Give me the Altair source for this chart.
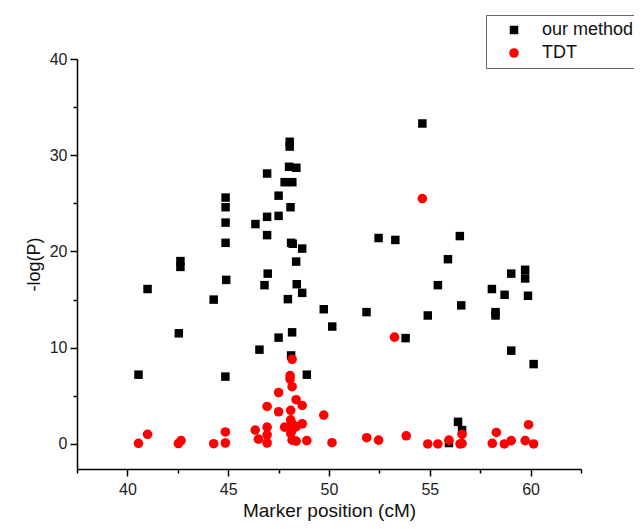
import altair as alt
import pandas as pd

# "our method" (black squares)
ours_x = [40.55, 41.0, 42.55, 42.63, 42.63, 44.28, 44.87, 44.87, 44.87, 44.87,
          44.9, 44.86, 46.35, 46.55, 46.8, 46.93, 46.93, 46.93, 46.96, 47.5,
          47.5, 47.5, 47.8, 47.96, 48.05, 48.05, 48.02, 48.38, 48.18, 48.09,
          48.12, 48.2, 48.17, 48.12, 48.67, 48.37, 48.4, 48.67, 48.9, 49.74,
          50.16, 51.86, 52.46, 53.29, 53.8, 54.63, 54.9, 55.4, 55.9, 56.4,
          56.6, 55.95, 56.49, 56.56, 58.08, 58.26, 58.26, 58.71, 59.04, 59.04,
          59.73, 59.73, 59.87, 60.15]
ours_y = [7.2, 16.1, 11.5, 19.0, 18.4, 15.0, 25.6, 24.6, 23.0, 20.9,
          17.05, 7.0, 22.85, 9.8, 16.5, 28.1, 23.6, 21.7, 17.7, 25.8,
          23.7, 11.05, 27.2, 15.05, 31.4, 30.9, 28.8, 28.7, 27.2, 24.6,
          20.9, 20.8, 11.6, 9.2, 20.3, 18.95, 16.6, 15.7, 7.2, 14.0,
          12.2, 13.7, 21.4, 21.2, 11.0, 33.3, 13.35, 16.5, 19.2, 2.3,
          1.45, 0.1, 21.6, 14.4, 16.1, 13.7, 13.35, 15.5, 17.7, 9.7,
          18.1, 17.2, 15.4, 8.3]

# "TDT" (red circles)
tdt_x = [40.55, 41.0, 42.53, 42.66, 44.28, 44.86, 44.86, 46.34, 46.5, 46.93,
         46.93, 46.93, 46.93, 47.5, 47.5, 48.17, 48.07, 48.07, 48.17, 48.37,
         48.67, 48.1, 47.8, 48.1, 48.17, 48.37, 48.67, 48.1, 48.17, 48.17,
         48.37, 48.9, 49.74, 50.15, 51.87, 52.46, 53.25, 53.83, 54.63, 54.9,
         55.4, 55.95, 56.5, 56.6, 56.6, 58.1, 58.3, 58.7, 59.04, 59.73,
         59.9, 60.15]
tdt_y = [0.07, 1.0, 0.05, 0.35, 0.03, 1.25, 0.1, 1.45, 0.5, 3.9,
         1.75, 0.95, 0.1, 5.35, 3.35, 8.8, 7.1, 6.75, 5.95, 4.6,
         4.0, 3.5, 1.75, 2.5, 2.1, 1.8, 2.1, 1.1, 1.45, 0.4,
         0.3, 0.35, 3.0, 0.13, 0.65, 0.4, 11.1, 0.85, 25.5, 0.0,
         0.0, 0.4, 0.0, 0.05, 1.0, 0.07, 1.2, 0.0, 0.35, 0.35,
         2.0, 0.0]

series_names = ["our method", "TDT"]
series_colors = ["#000000", "#ff0000"]
series_shapes = ["square", "circle"]
series_sizes = [72, 92]

x_major = [40, 45, 50, 55, 60]
x_minor = [37.5, 42.5, 47.5, 52.5, 57.5, 62.5]
y_major = [0, 10, 20, 30, 40]
y_minor = [5, 15, 25, 35]

df_ours = pd.DataFrame({"x": ours_x, "y": ours_y, "series": series_names[0]})
df_tdt = pd.DataFrame({"x": tdt_x, "y": tdt_y, "series": series_names[1]})

FONT = "Liberation Sans"
xscale = alt.Scale(domain=[37.5, 62.5], nice=False, zero=False)
yscale = alt.Scale(domain=[-2.6, 40], nice=False, zero=False)

color = alt.Color("series:N", scale=alt.Scale(domain=series_names, range=series_colors),
                  legend=alt.Legend(title=None, orient="none", legendX=409, legendY=-44,
                                    strokeColor="#666666", fillColor="white", padding=6,
                                    labelFontSize=18, labelFont=FONT, labelColor="#111111",
                                    symbolOffset=13, labelOffset=19, rowPadding=5,
                                    symbolStrokeWidth=0))
shape = alt.Shape("series:N", scale=alt.Scale(domain=series_names, range=series_shapes))
size = alt.Size("series:N", scale=alt.Scale(domain=series_names, range=series_sizes))

axis_common = dict(grid=False, domainColor="black", domainWidth=1.5, tickColor="black",
                   tickWidth=1.5, labelFont=FONT, labelColor="#222222",
                   titleFont=FONT, titleColor="#111111", titleFontWeight="normal")

ours = alt.Chart(df_ours).mark_point(filled=True, opacity=1).encode(
    x=alt.X("x:Q", scale=xscale, title="Marker position (cM)",
            axis=alt.Axis(orient="bottom", values=x_major, tickSize=7, labelFontSize=16,
                          labelPadding=5, titleFontSize=19, titlePadding=4, **axis_common)),
    y=alt.Y("y:Q", scale=yscale, title="-log(P)",
            axis=alt.Axis(orient="left", values=y_major, tickSize=7, labelFontSize=16,
                          labelPadding=3, titleFontSize=18, titlePadding=6, **axis_common)),
    color=color, shape=shape, size=size,
)

tdt = alt.Chart(df_tdt).mark_point(filled=True, opacity=1).encode(
    x=alt.X("x:Q", scale=xscale, title="",
            axis=alt.Axis(orient="bottom", values=x_minor, tickSize=4, labels=False,
                          domain=False, grid=False, tickColor="black", tickWidth=1.5)),
    y=alt.Y("y:Q", scale=yscale, title="",
            axis=alt.Axis(orient="left", values=y_minor, tickSize=4, labels=False,
                          domain=False, grid=False, tickColor="black", tickWidth=1.5)),
    color=color, shape=shape, size=size,
)

chart = alt.layer(ours, tdt).resolve_axis(x="independent", y="independent").properties(
    width=504, height=410,
    autosize=alt.AutoSizeParams(type="none"),
    padding={"left": 69, "top": 51, "right": 53, "bottom": 52},
).configure_view(strokeWidth=0)

chart.save("out.html", embed_options={"renderer": "svg", "actions": False})
